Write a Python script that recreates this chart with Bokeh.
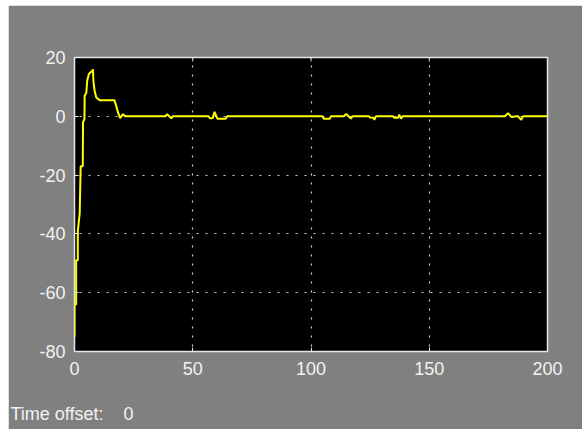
from bokeh.plotting import figure
from bokeh.models import Range1d, FixedTicker, Title
from bokeh.embed import file_html
from bokeh.resources import INLINE

# ---- data ----
time_s = [0, 0, 0.7, 0.7, 1.4, 1.4, 2.2, 2.6, 3.5, 3.6, 4.2, 4.3, 5.0, 5.4, 6.1,
          6.8, 7.6, 7.8, 8.0, 8.5, 9.2, 10.6, 16.9, 17.6, 18.4, 19.3, 20.5, 21.4,
          38.4, 39.2, 40.9, 41.6,
          56.7, 57.3, 58.4, 59.2, 60.4, 64.0, 64.5,
          104.8, 105.4, 108.0, 108.4,
          113.9, 114.9, 116.9, 117.5,
          124.4, 125.0, 126.4, 126.8, 127.4,
          134.7, 135.2, 136.8, 137.3, 138.0, 138.7,
          182.0, 183.3, 184.7, 187.0, 187.5, 188.9, 189.6, 200]
signal = [-75, -64, -64, -49, -49, -39, -33, -17, -17, -2, -1, 7, 8, 12.3, 14.4,
          15, 15.5, 16, 12, 8.7, 6.4, 5.5, 5.5, 3.6, 1.3, -0.6, 0.75, 0,
          0, 0.7, -0.7, 0,
          0, -0.7, -0.7, 1.5, -0.8, -0.8, 0,
          0, -0.8, -0.8, 0,
          0, 0.8, -0.8, 0,
          0, -0.4, -0.5, -1.2, 0,
          0, -0.5, -0.5, 0.6, -0.8, 0,
          0, 1.1, -0.2, 0, 0, -1.2, 0, 0]

x_ticks = [0, 50, 100, 150, 200]
x_tick_labels = ["0", "50", "100", "150", "200"]
y_ticks = [-80, -60, -40, -20, 0, 20]
y_tick_labels = ["-80", "-60", "-40", "-20", "0", "20"]
offset_caption = "Time offset:"
offset_value = "0"

X_MIN, X_MAX = x_ticks[0], x_ticks[-1]
Y_MIN, Y_MAX = y_ticks[0], y_ticks[-1]

FONT = "Liberation Sans"
TXT = "#f2f2f2"
BOX = "#e6e6e6"
GRAY = "#808080"

p = figure(width=574, height=424, output_backend="svg", toolbar_location=None,
           x_range=Range1d(X_MIN, X_MAX), y_range=Range1d(Y_MIN, Y_MAX),
           min_border_left=66, min_border_right=35, min_border_top=52,
           min_border_bottom=78,
           background_fill_color="black", border_fill_color=GRAY,
           outline_line_color=BOX, outline_line_width=1.5,
           styles={"margin-left": "8px", "margin-top": "5px"})

for g in (p.xgrid[0], p.ygrid[0]):
    g.grid_line_color = "#d0d0d0"
    g.grid_line_dash = "2 7"
    g.grid_line_dash_offset = 4
    g.grid_line_width = 1.2

p.line(time_s, signal, line_color="#ffff00", line_width=2)

for ax, ticks, labels in ((p.xaxis[0], x_ticks, x_tick_labels),
                          (p.yaxis[0], y_ticks, y_tick_labels)):
    ax.ticker = FixedTicker(ticks=ticks)
    ax.major_label_overrides = {t: l for t, l in zip(ticks, labels)}
    ax.axis_line_color = None
    ax.major_tick_line_color = BOX
    ax.major_tick_in = 4
    ax.major_tick_out = 0
    ax.minor_tick_line_color = None
    ax.major_label_text_color = TXT
    ax.major_label_text_font = FONT
    ax.major_label_text_font_size = "18px"
p.xaxis[0].major_label_standoff = 10
p.yaxis[0].major_label_standoff = 9

# small inward ticks along the top edge of the box
tick_len = (Y_MAX - Y_MIN) * 4 / 294
p.segment(x0=x_ticks, y0=[Y_MAX] * len(x_ticks), x1=x_ticks,
          y1=[Y_MAX - tick_len] * len(x_ticks), line_color=BOX, line_width=1)

# "Time offset:  0" caption in the bottom-left corner
caption = offset_caption + "\u00a0" * 4 + offset_value
title_style = dict(text=caption, align="left", offset=-64,
                   text_font=FONT, text_font_size="18px",
                   text_font_style="normal", text_color=TXT)
try:
    cap = Title(standoff=0, padding=(0, 24, 24, 0), **title_style)
except Exception:
    cap = Title(standoff=28, **title_style)
p.add_layout(cap, "below")

open("out.html", "w").write(file_html(p, INLINE))
